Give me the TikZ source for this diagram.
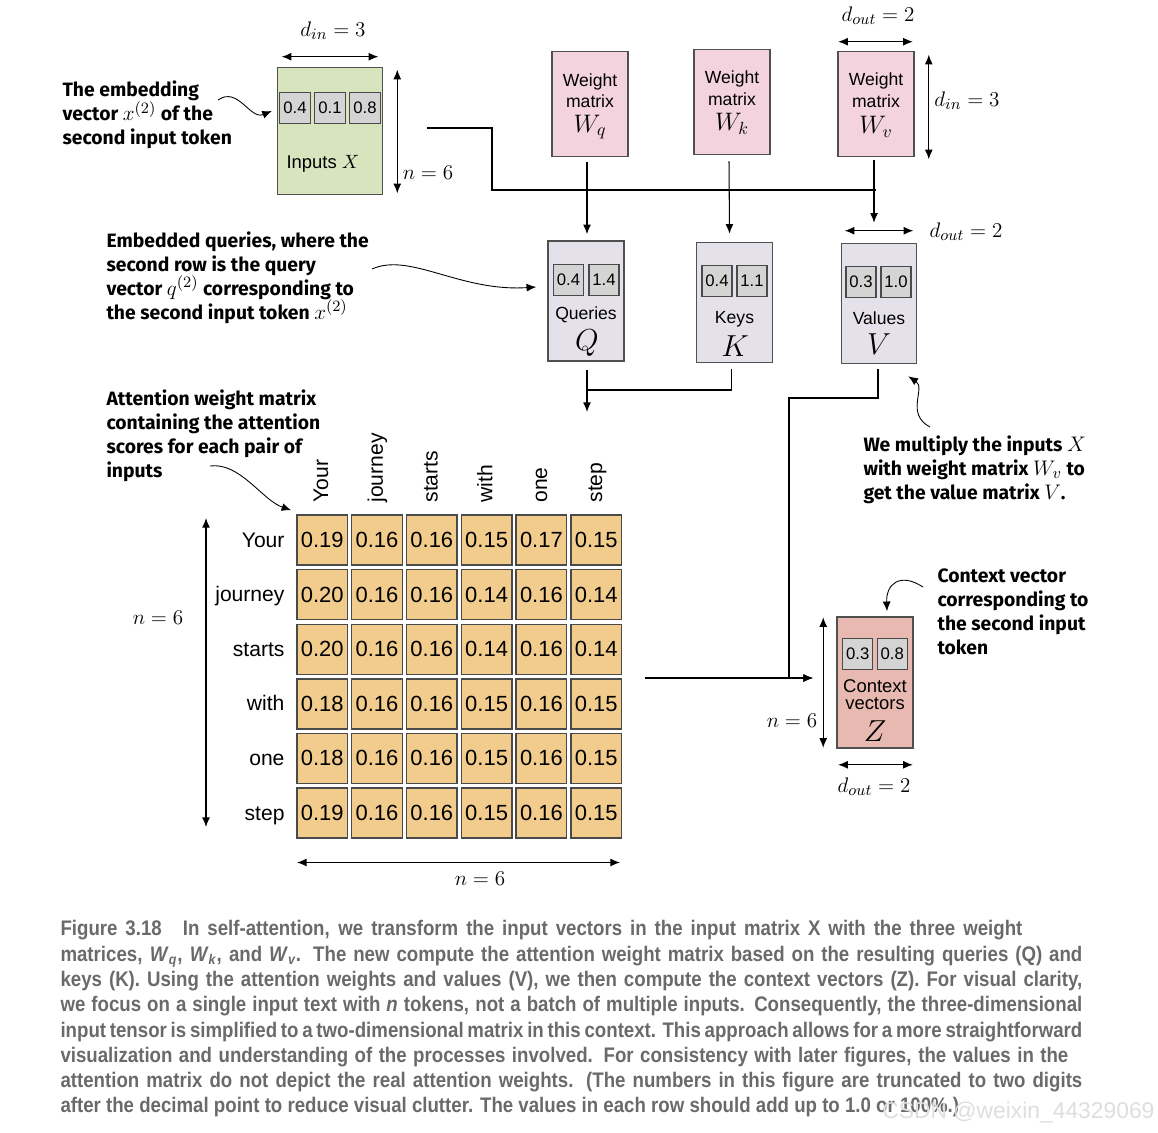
\documentclass[tikz,border=0pt]{standalone}
\usepackage[no-math]{fontspec}
\setmainfont{Liberation Sans}
\newfontfamily\notefont{Fira Sans}
\newfontfamily\capfont{Liberation Sans}[FakeStretch=0.885]
\usetikzlibrary{arrows.meta,calc}
\definecolor{inputgreen}{HTML}{D7E4BE}
\definecolor{cellgray}{HTML}{D4D4D4}
\definecolor{cellline}{HTML}{4A4A4A}
\definecolor{weightpink}{HTML}{F2D3DE}
\definecolor{qkvgray}{HTML}{E5E1EA}
\definecolor{attorange}{HTML}{F2CC8C}
\definecolor{ctxsalmon}{HTML}{E8B9B0}
\definecolor{boxgray}{HTML}{505050}
\definecolor{capgray}{HTML}{6A6A6A}
\newcommand{\capW}[1]{\textit{W}\textsubscript{\itshape #1}}
\newcommand{\nm}[1]{{\fontsize{13}{13.6}\selectfont$#1$}}
\newcommand{\capline}[2]{\makebox[#1][s]{#2}}

\begin{document}
\begin{tikzpicture}[x=0.02cm,y=-0.02cm,
  >={Latex[length=5.5pt,width=4.5pt]},
  line width=0.6pt,
  box/.style={draw=boxgray,line width=0.9pt,inner sep=0pt},
  vcell/.style={draw=cellline,fill=cellgray,line width=0.7pt,inner sep=0pt,
    minimum width=0.6cm,minimum height=0.62cm,font=\fontsize{9.5}{10}\selectfont},
  acell/.style={draw=cellline,fill=attorange,line width=0.8pt,inner sep=0pt,
    minimum width=1.01cm,minimum height=1cm,font=\fontsize{12.5}{13}\selectfont},
  boxtext/.style={inner sep=0pt,font=\fontsize{10}{11}\selectfont},
  wsym/.style={inner sep=0pt,font=\fontsize{14}{14}\selectfont},
  bigsym/.style={inner sep=0pt,font=\fontsize{16}{16}\selectfont},
  dimlabel/.style={inner sep=0pt,font=\fontsize{12.5}{13}\selectfont},
  word/.style={inner sep=0pt,font=\fontsize{12}{12}\selectfont},
  note/.style={inner sep=0pt,align=left,anchor=west,
    font=\notefont\bfseries\fontsize{11}{13.6}\selectfont},
]
\useasboundingbox (0,0) rectangle (1158,1132);

% inputs
\node[box,fill=inputgreen,minimum width=2.1cm,minimum height=2.54cm] (inX) at (330,131) {};
\node[vcell,minimum width=0.62cm,minimum height=0.61cm] (x1) at (295,108) {0.4};
\node[vcell,minimum width=0.62cm,minimum height=0.61cm] (x2) at (330,108) {0.1};
\node[vcell,minimum width=0.62cm,minimum height=0.61cm] (x3) at (365,108) {0.8};
\node[inner sep=0pt,font=\fontsize{10.5}{11}\selectfont] (inlbl) at (323,164) {Inputs $X$};
\draw[<->] ($(inX.north west)+(5,-10)$) -- ($(inX.north east)+(-5,-10)$);
\node[dimlabel] (dinX) at (333,31) {$d_{in} = 3$};
\draw[<->] ($(inX.north east)+(14,3)$) -- ($(inX.south east)+(14,-2)$);
\node[dimlabel] (nX) at (428,173) {$n = 6$};

% weight matrices
\node[box,fill=weightpink,minimum width=1.52cm,minimum height=2.1cm] (wq) at (590,104) {};
\node[boxtext] (wq-a) at (590,82) {Weight};
\node[boxtext] (wq-b) at (590,101) {matrix};
\node[wsym] (wq-c) at (590,127) {$W_q$};
\node[box,fill=weightpink,minimum width=1.52cm,minimum height=2.1cm] (wk) at (732,102) {};
\node[boxtext] (wk-a) at (732,79) {Weight};
\node[boxtext] (wk-b) at (732,99) {matrix};
\node[wsym] (wk-c) at (732,124) {$W_k$};
\node[box,fill=weightpink,minimum width=1.52cm,minimum height=2.1cm] (wv) at (876,104) {};
\node[boxtext] (wv-a) at (876,81) {Weight};
\node[boxtext] (wv-b) at (876,101) {matrix};
\node[wsym] (wv-c) at (876,127) {$W_v$};
\draw[<->] ($(wv.north west)+(1,-9)$) -- ($(wv.north east)+(-2,-9)$);
\node[dimlabel] (doutW) at (878,16) {$d_{out} = 2$};
\draw[<->] ($(wv.north east)+(14,4)$) -- ($(wv.south east)+(14,2)$);
\node[dimlabel] (dinW) at (967,101) {$d_{in} = 3$};

% queries, keys, values
\node[box,fill=qkvgray,minimum width=1.52cm,minimum height=2.4cm] (q) at (586,301) {};
\node[vcell] (q1) at (568.5,280) {0.4};
\node[vcell] (q2) at (604,280) {1.4};
\node[boxtext] (q-a) at (586,315) {Queries};
\node[bigsym] (q-b) at (587,343) {$Q$};
\node[box,fill=qkvgray,minimum width=1.52cm,minimum height=2.4cm] (k) at (734.5,302.5) {};
\node[vcell] (k1) at (717,281) {0.4};
\node[vcell] (k2) at (752,281) {1.1};
\node[boxtext] (k-a) at (734.5,319) {Keys};
\node[bigsym] (k-b) at (735,346) {$K$};
\node[box,fill=qkvgray,minimum width=1.5cm,minimum height=2.4cm] (v) at (879,303.5) {};
\node[vcell] (v1) at (861,282) {0.3};
\node[vcell] (v2) at (896,282) {1.0};
\node[boxtext] (v-a) at (879,318) {Values};
\node[bigsym] (v-b) at (879,344) {$V$};
\draw[<->] ($(v.north west)+(4,-12)$) -- ($(v.north east)+(-4,-12)$);
\node[dimlabel] (doutV) at (966,232) {$d_{out} = 2$};

% attention weights
\foreach \w [count=\c from 0] in {Your,journey,starts,with,one,step}
  \node[word,rotate=90,anchor=base west] (col-\c) at ({328+54.8*\c},503) {\w};
\foreach \r/\w/\vals in {0/Your/{0.19,0.16,0.16,0.15,0.17,0.15},
    1/journey/{0.20,0.16,0.16,0.14,0.16,0.14},
    2/starts/{0.20,0.16,0.16,0.14,0.16,0.14},
    3/with/{0.18,0.16,0.16,0.15,0.16,0.15},
    4/one/{0.18,0.16,0.16,0.15,0.16,0.15},
    5/step/{0.19,0.16,0.16,0.15,0.16,0.15}}{
  \node[word,anchor=base east] (row-\r) at (285,{547+54.6*\r}) {\w};
  \foreach \v [count=\c from 0] in \vals
    \node[acell] (a-\r-\c) at ({322.2+54.8*\c},{540+54.6*\r}) {\v};
}
\draw[<->] (206,518) -- (206,827);
\node[dimlabel] (nrow) at (158,618) {$n = 6$};
\draw[<->] (297,862.5) -- (620,862.5);
\node[dimlabel] (ncol) at (480,879) {$n = 6$};

% context vectors
\node[box,fill=ctxsalmon,minimum width=1.52cm,minimum height=2.62cm] (z) at (875,682.5) {};
\node[vcell] (z1) at (857.7,654) {0.3};
\node[vcell] (z2) at (892.3,654) {0.8};
\node[boxtext,font=\fontsize{10.5}{11}\selectfont] (z-a) at (875,686) {Context};
\node[boxtext,font=\fontsize{10.5}{11}\selectfont] (z-b) at (875,704) {vectors};
\node[bigsym] (z-c) at (875,731) {$Z$};
\draw[<->] ($(z.north west)+(-13,1)$) -- ($(z.south west)+(-13,-1)$);
\node[dimlabel] (nZ) at (792,721) {$n = 6$};
\draw[<->] ($(z.south west)+(2,16)$) -- ($(z.south east)+(-1,16)$);
\node[dimlabel] (doutZ) at (874,787) {$d_{out} = 2$};

% wiring
\coordinate (xout) at (427,128);
\coordinate (bus) at (492,190);
\draw (xout) -| (bus) -- (bus -| wv.south);
\draw[->] ($(wq.south)+(-3,5)$) -- ($(q.north)+(1,-6)$);
\draw[->] ($(wk.south)+(-3,6)$) -- ($(k.north)+(-5,-8)$);
\draw[->] ($(wv.south)+(-2,3)$) -- ($(v.north)+(-5,-20)$);
\coordinate (qk) at (587,390);
\coordinate (attin) at (587,412);
\draw ($(k.south)+(-3,6)$) |- (qk);
\draw[->] ($(q.south)+(1,8)$) -- (attin);
\coordinate (vz) at (789,398);
\coordinate (zin) at (813,678);
\coordinate (attout) at (645,678);
\draw[->] ($(v.south)+(-1,5)$) |- (vz) |- (zin);
\draw[->] (attout) -- (zin);

% notes
\node[note] (embnote) at (62,115) {The embedding\\vector \nm{x^{(2)}} of the\\second input token};
\node[note] (qnote) at (106,278) {Embedded queries, where the\\second row is the query\\vector \nm{q^{(2)}} corresponding to\\the second input token \nm{x^{(2)}}};
\node[note] (attnote) at (106,436) {Attention weight matrix\\containing the attention\\scores for each pair of\\inputs};
\node[note] (vnote) at (863,470) {We multiply the inputs \nm{X}\\with weight matrix \nm{W_v} to\\get the value matrix \nm{V}.};
\node[note] (znote) at (937,612) {Context vector\\corresponding to\\the second input\\token};
\coordinate (embfrom) at (218,100);
\coordinate (qfrom) at (372,269);
\coordinate (attfrom) at (210,466);
\coordinate (vfrom) at (930,427);
\coordinate (zfrom) at (923,587);
\draw[->,line width=0.5pt] (embfrom) .. controls (238,86) and (250,120) .. ($(x1.west)+(-7,3)$);
\draw[->,line width=0.5pt] (qfrom) .. controls (410,252) and (460,292) .. ($(q.west)+(-11,-14)$);
\draw[->,line width=0.5pt] (attfrom) .. controls (240,462) and (262,500) .. ($(a-0-0.north west)+(-5,-4)$);
\draw[->,line width=0.5pt] (vfrom) .. controls (905,414) and (926,388) .. ($(v.south east)+(-9,12)$);
\draw[->,line width=0.5pt] (zfrom) .. controls (900,572) and (886,584) .. ($(z.north)+(12,-5)$);

% caption
\node[inner sep=0pt,anchor=north west,align=left,text=capgray,
  font=\capfont\bfseries\fontsize{12}{14.4}\selectfont] (caption) at (60,920) {%
\capline{19.24cm}{Figure 3.18\quad In self-attention, we transform the input vectors in the input matrix X with the three weight}\\
\capline{20.44cm}{matrices, \capW{q}, \capW{k}, and \capW{v}. The new compute the attention weight matrix based on the resulting queries (Q) and}\\
\capline{20.44cm}{keys (K). Using the attention weights and values (V), we then compute the context vectors (Z). For visual clarity,}\\
\capline{20.44cm}{we focus on a single input text with \textit{n} tokens, not a batch of multiple inputs. Consequently, the three-dimensional}\\
\capline{20.44cm}{input tensor is simplified to a two-dimensional matrix in this context. This approach allows for a more straightforward}\\
\capline{20.16cm}{visualization and understanding of the processes involved. For consistency with later figures, the values in the}\\
\capline{20.44cm}{attention matrix do not depict the real attention weights. (The numbers in this figure are truncated to two digits}\\
after the decimal point to reduce visual clutter. The values in each row should add up to 1.0 or 100\%.)};
\node[anchor=east,inner sep=0pt,text=black!13,font=\fontsize{13}{13}\selectfont] (mark) at (1155,1112) {CSDN @weixin\_44329069};
\end{tikzpicture}
\end{document}
